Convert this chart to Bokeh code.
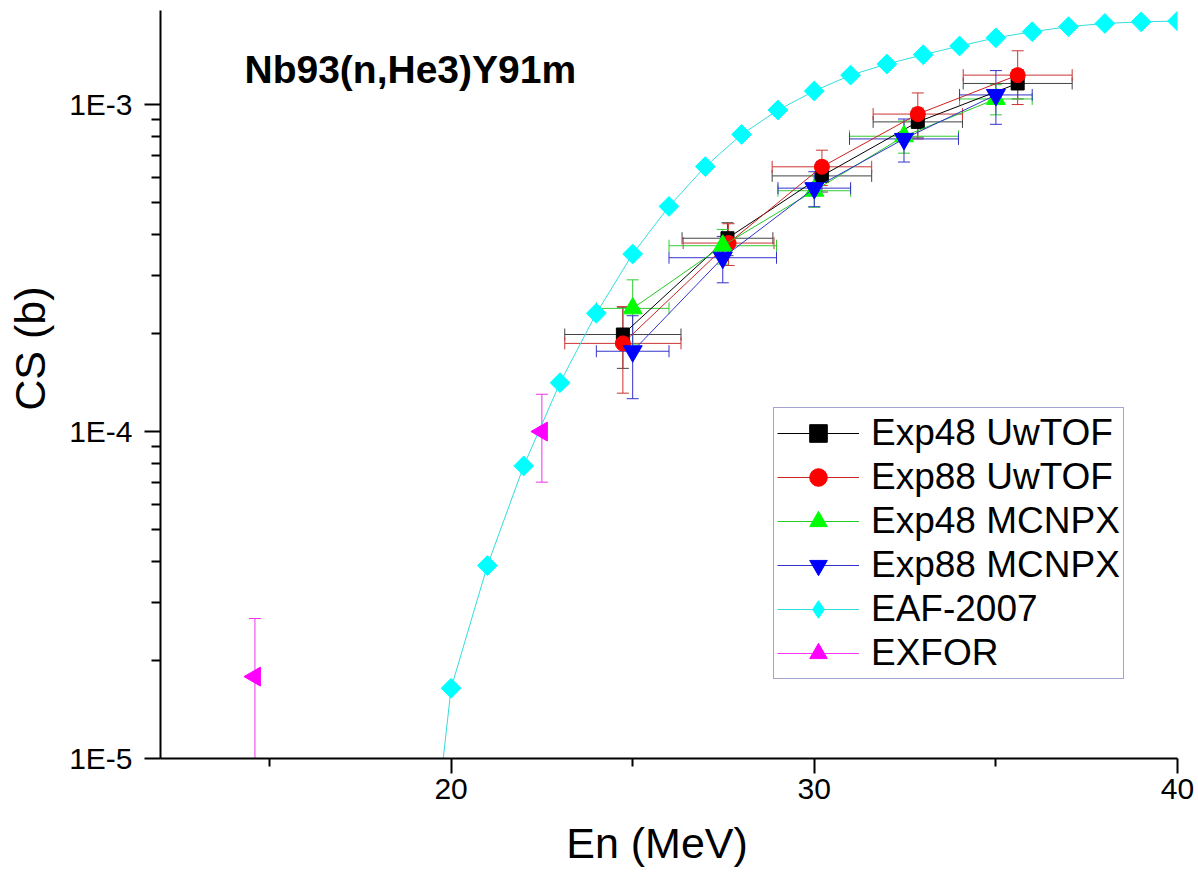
import numpy as np
from bokeh.plotting import figure
from bokeh.models import (Whisker, TeeHead, ColumnDataSource, FixedTicker,
                          CustomJSTickFormatter, Legend, LegendItem, Label, Range1d)
from bokeh.embed import file_html
from bokeh.resources import INLINE

# ---------------- data ----------------
# Exp48 UwTOF
exp48_uw_x = [24.73, 27.61, 30.21, 32.85, 35.60]
exp48_uw_y = [1.98e-4, 3.90e-4, 6.05e-4, 8.85e-4, 1.16e-3]
exp48_uw_xerr = [1.60, 1.25, 1.37, 1.23, 1.50]
exp48_uw_yerr = [0.42e-4, 0.45e-4, 0.65e-4, 0.90e-4, 1.20e-4]

# Exp88 UwTOF
exp88_uw_x = [24.73, 27.64, 30.21, 32.85, 35.60]
exp88_uw_y = [1.86e-4, 3.77e-4, 6.45e-4, 9.35e-4, 1.23e-3]
exp88_uw_xerr = [1.60, 1.25, 1.37, 1.23, 1.50]
exp88_uw_yerr = [0.55e-4, 0.55e-4, 0.80e-4, 1.50e-4, 2.30e-4]

# Exp48 MCNPX
exp48_mc_x = [25.0, 27.48, 30.0, 32.47, 35.0]
exp48_mc_y = [2.38e-4, 3.70e-4, 5.45e-4, 8.00e-4, 1.04e-3]
exp48_mc_xerr = [1.0, 1.48, 1.0, 1.5, 1.0]
exp48_mc_yerr = [0.53e-4, 0.45e-4, 0.60e-4, 0.90e-4, 1.10e-4]

# Exp88 MCNPX
exp88_mc_x = [25.0, 27.48, 30.0, 32.47, 35.0]
exp88_mc_y = [1.76e-4, 3.40e-4, 5.55e-4, 7.85e-4, 1.07e-3]
exp88_mc_xerr = [1.0, 1.48, 1.0, 1.5, 1.0]
exp88_mc_yerr = [0.50e-4, 0.55e-4, 0.68e-4, 1.18e-4, 2.00e-4]

# EAF-2007 evaluation
eaf_x = [19, 20, 21, 22, 23, 24, 25, 26, 27, 28, 29, 30,
         31, 32, 33, 34, 35, 36, 37, 38, 39, 40]
eaf_y = [1.65e-6, 1.64e-5, 3.89e-5, 7.85e-5, 1.41e-4, 2.30e-4, 3.49e-4,
         4.88e-4, 6.46e-4, 8.10e-4, 9.62e-4, 1.10e-3, 1.23e-3, 1.33e-3,
         1.42e-3, 1.51e-3, 1.60e-3, 1.67e-3, 1.73e-3, 1.77e-3, 1.79e-3,
         1.80e-3]

# EXFOR
exfor_x = [14.6, 22.5]
exfor_y = [1.78e-5, 1.00e-4]
exfor_yerr = [0.90e-5, 0.30e-4]

x_ticks = [20, 30, 40]
x_minor = [15, 25, 35]
y_ticks = [1e-5, 1e-4, 1e-3]
y_minor = [m * 10.0 ** e for e in (-5, -4) for m in range(2, 10)]

FONT = "Liberation Sans"
NBSP = "\u00a0"

# ---------------- figure ----------------
p = figure(frame_width=1017, frame_height=748,
           x_range=Range1d(12, 40), y_range=Range1d(1e-5, 1.939e-3),
           y_axis_type="log", output_backend="svg", toolbar_location=None,
           min_border_left=160, min_border_right=19,
           min_border_top=10, min_border_bottom=117)
p.outline_line_color = None
p.xgrid.visible = False
p.ygrid.visible = False
p.background_fill_color = "white"
p.border_fill_color = "white"

for ax in (p.xaxis[0], p.yaxis[0]):
    ax.axis_line_width = 2
    ax.axis_line_color = "black"
    ax.major_tick_line_width = 2
    ax.minor_tick_line_width = 2
    ax.major_tick_line_color = "black"
    ax.minor_tick_line_color = "black"
    ax.major_tick_in = 0
    ax.minor_tick_in = 0
    ax.major_label_text_font = FONT
    ax.major_label_text_font_size = "30px"
    ax.major_label_text_color = "black"
    ax.axis_label_text_font = FONT
    ax.axis_label_text_font_size = "43px"
    ax.axis_label_text_font_style = "normal"
    ax.axis_label_text_color = "black"

p.xaxis.ticker = FixedTicker(ticks=x_ticks, minor_ticks=x_minor)
p.xaxis.major_tick_out = 15
p.xaxis.minor_tick_out = 8
p.xaxis.major_label_standoff = 5
p.xaxis.axis_label = "En (MeV)" + NBSP * 2
p.xaxis.axis_label_standoff = 17

p.yaxis.ticker = FixedTicker(ticks=y_ticks, minor_ticks=y_minor)
p.yaxis.formatter = CustomJSTickFormatter(
    code="return '1E' + Math.round(Math.log10(tick));")
p.yaxis.major_tick_out = 16
p.yaxis.minor_tick_out = 9
p.yaxis.major_label_standoff = 12
p.yaxis.axis_label = NBSP * 6 + "CS (b)"
p.yaxis.axis_label_standoff = 12


def add_series(x, y, xerr, yerr, mcolor, lcolor, ecolor, marker, size,
               angle=0.0, draw_line=True, legend_marker=None):
    n = len(x)
    xerr = xerr if xerr is not None else [0.0] * n
    yerr = yerr if yerr is not None else [0.0] * n
    src = ColumnDataSource(dict(
        x=x, y=y,
        xl=[a - e for a, e in zip(x, xerr)], xu=[a + e for a, e in zip(x, xerr)],
        yl=[a - e for a, e in zip(y, yerr)], yu=[a + e for a, e in zip(y, yerr)],
    ))
    if draw_line:
        ln = p.line("x", "y", source=src, line_color=lcolor, line_width=1)
    else:
        ln = p.line(x=[np.nan], y=[np.nan], line_color=lcolor, line_width=1)
    if any(e > 0 for e in yerr):
        p.add_layout(Whisker(base="x", upper="yu", lower="yl", source=src,
                             dimension="height", line_color=ecolor, line_width=1,
                             upper_head=TeeHead(size=12, line_color=ecolor, line_width=1),
                             lower_head=TeeHead(size=12, line_color=ecolor, line_width=1)))
    if any(e > 0 for e in xerr):
        p.add_layout(Whisker(base="y", upper="xu", lower="xl", source=src,
                             dimension="width", line_color=ecolor, line_width=1,
                             upper_head=TeeHead(size=12, line_color=ecolor, line_width=1),
                             lower_head=TeeHead(size=12, line_color=ecolor, line_width=1)))
    sc = p.scatter("x", "y", source=src, marker=marker, size=size, angle=angle,
                   fill_color=mcolor, line_color=mcolor)
    if legend_marker is not None:
        lg = p.scatter(x=[np.nan], y=[np.nan], marker=legend_marker, size=size,
                       fill_color=mcolor, line_color=mcolor)
        return [ln, lg]
    return [ln, sc]


r_eaf = add_series(eaf_x, eaf_y, None, None, "#00ffff", "#33dddd", "#33dddd",
                   "square", 14, angle=np.pi / 4, legend_marker="diamond")
r_exfor = add_series(exfor_x, exfor_y, None, exfor_yerr, "#ff00ff", "#ff33ff",
                     "#ee33ee", "triangle", 19, angle=np.pi / 2, draw_line=False)
r_48uw = add_series(exp48_uw_x, exp48_uw_y, exp48_uw_xerr, exp48_uw_yerr,
                    "#000000", "#000000", "#444444", "square", 13)
r_88uw = add_series(exp88_uw_x, exp88_uw_y, exp88_uw_xerr, exp88_uw_yerr,
                    "#ff0000", "#cc2222", "#cc3333", "circle", 15)
r_48mc = add_series(exp48_mc_x, exp48_mc_y, exp48_mc_xerr, exp48_mc_yerr,
                    "#00ff00", "#22cc22", "#33cc33", "triangle", 19)
r_88mc = add_series(exp88_mc_x, exp88_mc_y, exp88_mc_xerr, exp88_mc_yerr,
                    "#0000ff", "#3333cc", "#3333cc", "inverted_triangle", 19)

legend = Legend(items=[
    LegendItem(label="Exp48 UwTOF", renderers=r_48uw),
    LegendItem(label="Exp88 UwTOF", renderers=r_88uw),
    LegendItem(label="Exp48 MCNPX", renderers=r_48mc),
    LegendItem(label="Exp88 MCNPX", renderers=r_88mc),
    LegendItem(label="EAF-2007", renderers=r_eaf),
    LegendItem(label="EXFOR", renderers=r_exfor),
], location=(613, 79))
legend.glyph_width = 82
legend.glyph_height = 44
legend.label_height = 44
legend.spacing = 0
legend.padding = 3
legend.margin = 0
legend.label_standoff = 12
legend.label_text_font = FONT
legend.label_text_font_size = "37px"
legend.label_text_color = "black"
legend.border_line_color = "#4a4aa8"
legend.border_line_width = 1
legend.background_fill_color = "white"
legend.background_fill_alpha = 1.0
p.add_layout(legend)

title = Label(x=84, y=689, x_units="screen", y_units="screen",
              text="Nb93(n,He3)Y91m", text_font=FONT, text_font_size="39px",
              text_font_style="bold", text_color="black",
              text_baseline="alphabetic")
p.add_layout(title)

open("out.html", "w").write(file_html(p, INLINE))
